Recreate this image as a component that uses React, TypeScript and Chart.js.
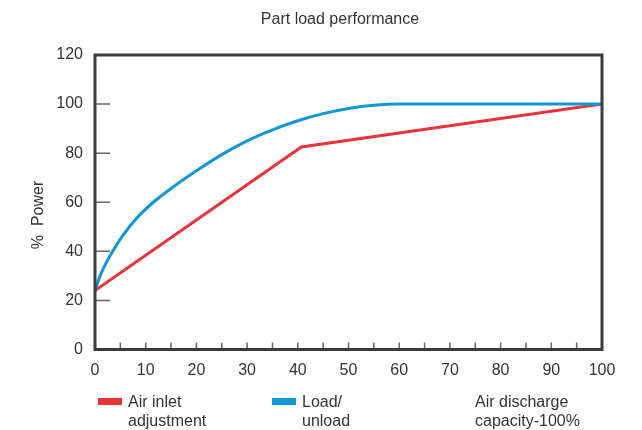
import React, { useEffect, useRef } from "react";
import { Chart, registerables } from "chart.js";

Chart.register(...registerables);

const titleText = "Part load performance";
const yAxisTitle = "%  Power";
const redLabel = ["Air inlet", "adjustment"];
const blueLabel = ["Load/", "unload"];
const xAxisNote = ["Air discharge", "capacity-100%"];

const redX = [0, 40.7, 100];
const redY = [24, 82.5, 100];

const blueX = [0, 1, 2, 3.5, 5.5, 8, 11.5, 15, 20, 25, 30, 35, 40, 45, 50, 55, 60, 100];
const blueY = [24, 30, 34.5, 40, 46.5, 53, 60, 65.6, 72.8, 79.4, 85, 89.5, 93.2, 96.1, 98.2, 99.5, 100, 100];

const xTickLabels = [0, 10, 20, 30, 40, 50, 60, 70, 80, 90, 100];
const yTickLabels = [0, 20, 40, 60, 80, 100, 120];
const xMinorTicks = [5, 10, 15, 20, 25, 30, 35, 40, 45, 50, 55, 60, 65, 70, 75, 80, 85, 90, 95];
const yMinorTicks = [20, 40, 60, 80, 100];

const RED = "#e8333b";
const BLUE = "#1197d6";
const FRAME = "#3b3b3b";
const TICK = "#666666";
const TEXT = "#333333";
const FAMILY = "'Liberation Sans', Arial, Helvetica, sans-serif";

const decorPlugin = {
  id: "decor",
  beforeDatasetsDraw(chart: any) {
    const { ctx, chartArea } = chart;
    const xs = chart.scales.x;
    const ys = chart.scales.y;
    ctx.save();
    ctx.strokeStyle = TICK;
    ctx.lineWidth = 1.5;
    ctx.beginPath();
    yMinorTicks.forEach((v) => {
      const y = ys.getPixelForValue(v);
      ctx.moveTo(chartArea.left, y);
      ctx.lineTo(chartArea.left + 15, y);
    });
    xMinorTicks.forEach((v) => {
      const x = xs.getPixelForValue(v);
      ctx.moveTo(x, chartArea.bottom);
      ctx.lineTo(x, chartArea.bottom - 7);
    });
    ctx.stroke();
    ctx.restore();
  },
  afterDraw(chart: any) {
    const { ctx, chartArea } = chart;
    ctx.save();
    ctx.strokeStyle = FRAME;
    ctx.lineWidth = 3;
    ctx.strokeRect(
      chartArea.left,
      chartArea.top,
      chartArea.right - chartArea.left,
      chartArea.bottom - chartArea.top
    );
    ctx.fillStyle = TEXT;
    ctx.font = `16px ${FAMILY}`;
    ctx.textAlign = "center";
    ctx.textBaseline = "alphabetic";
    ctx.fillText(titleText, 340, 24);
    ctx.save();
    ctx.translate(39, 215);
    ctx.rotate(-Math.PI / 2);
    ctx.textBaseline = "middle";
    ctx.fillText(yAxisTitle, 0, 0);
    ctx.restore();
    ctx.textAlign = "left";
    ctx.fillStyle = RED;
    ctx.fillRect(98, 398, 24, 7);
    ctx.fillStyle = BLUE;
    ctx.fillRect(272, 398, 24, 7);
    ctx.fillStyle = TEXT;
    ctx.fillText(redLabel[0], 128, 407);
    ctx.fillText(redLabel[1], 128, 426);
    ctx.fillText(blueLabel[0], 302, 407);
    ctx.fillText(blueLabel[1], 302, 426);
    ctx.fillText(xAxisNote[0], 475, 407);
    ctx.fillText(xAxisNote[1], 475, 426);
    ctx.restore();
  },
};

export default function App() {
  const ref = useRef<HTMLCanvasElement>(null);
  useEffect(() => {
    document.body.style.margin = "0";
    const font = { family: FAMILY, size: 16 };
    const chart = new Chart(ref.current as HTMLCanvasElement, {
      type: "line",
      data: {
        datasets: [
          {
            label: blueLabel.join(" "),
            data: blueX.map((x, i) => ({ x, y: blueY[i] })),
            borderColor: BLUE,
            borderWidth: 3,
            pointRadius: 0,
            cubicInterpolationMode: "monotone",
            fill: false,
          },
          {
            label: redLabel.join(" "),
            data: redX.map((x, i) => ({ x, y: redY[i] })),
            borderColor: RED,
            borderWidth: 3,
            pointRadius: 0,
            tension: 0,
            fill: false,
          },
        ],
      },
      options: {
        responsive: false,
        animation: false,
        devicePixelRatio: 1,
        layout: { padding: { top: 55, right: 40, left: 0, bottom: 0 } },
        plugins: {
          legend: { display: false },
          title: { display: false },
          tooltip: { enabled: false },
        },
        scales: {
          x: {
            type: "linear",
            min: 0,
            max: 100,
            afterFit: (s: any) => {
              s.height = 80.5;
            },
            afterBuildTicks: (s: any) => {
              s.ticks = xTickLabels.map((v) => ({ value: v }));
            },
            grid: { display: false, drawTicks: false },
            border: { display: false },
            ticks: { padding: 11, font, color: TEXT, maxRotation: 0, autoSkip: false },
          },
          y: {
            type: "linear",
            min: 0,
            max: 120,
            afterFit: (s: any) => {
              s.width = 95;
            },
            afterBuildTicks: (s: any) => {
              s.ticks = yTickLabels.map((v) => ({ value: v }));
            },
            grid: { display: false, drawTicks: false },
            border: { display: false },
            ticks: { padding: 12, font, color: TEXT, autoSkip: false },
          },
        },
      } as any,
      plugins: [decorPlugin],
    });
    return () => chart.destroy();
  }, []);
  return <canvas ref={ref} width={642} height={430} style={{ display: "block" }} />;
}
